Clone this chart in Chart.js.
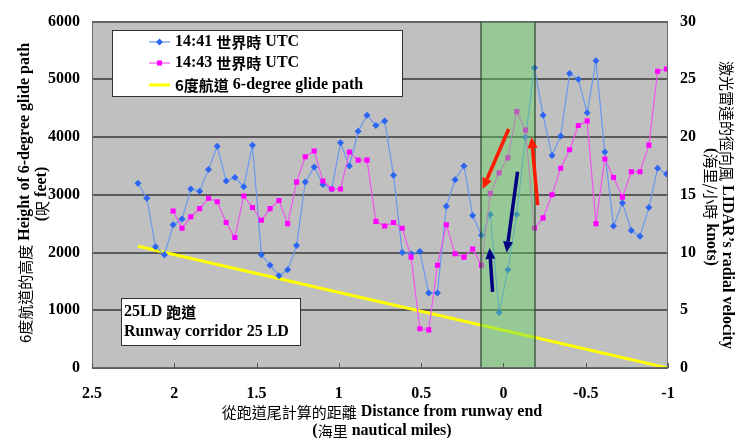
<!DOCTYPE html>
<html>
<head>
<meta charset="utf-8">
<script src="https://cdn.jsdelivr.net/npm/chart.js@4.4.1/dist/chart.umd.min.js"></script>
<style>
  html, body { margin: 0; padding: 0; background: #fff; }
  #wrap { width: 739px; height: 438px; }
</style>
</head>
<body>
<div id="wrap"><canvas id="c" width="739" height="438"></canvas></div>
<script>
// Distance from runway end (nautical miles), one sample every ~100 m
const distances = [
  2.221, 2.167, 2.114, 2.060, 2.007, 1.953, 1.900, 1.846, 1.792, 1.739,
  1.685, 1.632, 1.578, 1.525, 1.471, 1.418, 1.364, 1.311, 1.257, 1.204,
  1.150, 1.097, 1.043, 0.990, 0.936, 0.883, 0.829, 0.775, 0.722, 0.668,
  0.615, 0.561, 0.508, 0.454, 0.401, 0.347, 0.294, 0.240, 0.187, 0.133,
  0.080, 0.026, -0.027, -0.081, -0.134, -0.188, -0.241, -0.295, -0.348, -0.402,
  -0.455, -0.509, -0.562, -0.616, -0.669, -0.723, -0.777, -0.830, -0.884, -0.937,
  -0.991
];

// LIDAR radial velocity (knots) at 14:41 UTC
const velocity1441 = [
  16.0, 14.7, 10.5, 9.8, 12.4, 12.9, 15.5, 15.3, 17.2, 19.2,
  16.2, 16.5, 15.7, 19.3, 9.8, 8.9, 8.0, 8.5, 10.6, 16.1,
  17.4, 15.9, 15.5, 19.5, 17.5, 20.5, 21.9, 21.0, 21.4, 16.7,
  10.0, 9.9, 10.1, 6.5, 6.5, 14.0, 16.3, 17.5, 13.2, 11.5,
  13.3, 4.8, 8.5, 13.3, 20.0, 26.0, 21.9, 18.4, 20.1, 25.5,
  25.0, 22.1, 26.6, 18.7, 12.3, 14.3, 11.9, 11.4, 13.9, 17.3,
  16.8
];

// LIDAR radial velocity (knots) at 14:43 UTC
const velocity1443 = [
  null, null, null, null, 13.6, 12.1, 13.1, 13.8, 14.7, 14.4,
  12.6, 11.3, 14.9, 13.9, 12.8, 13.8, 14.5, 12.5, 16.1, 18.3,
  18.8, 16.2, 15.5, 15.5, 18.7, 18.0, 18.0, 12.7, 12.3, 12.6,
  12.1, 9.6, 3.4, 3.3, 8.9, 12.4, 9.9, 9.6, 10.3, 8.9,
  15.1, 16.9, 18.2, 22.2, 20.6, 12.1, 13.0, 15.0, 17.3, 18.9,
  21.0, 21.4, 12.5, 18.1, 16.5, 14.8, 17.0, 17.0, 19.3, 25.7,
  25.9
];

// 6-degree glide path: end points (nm, feet)
const glideDistance = [2.22, -1];
const glideHeight = [2110, 0];

// Tick values
const distanceTicks = [2.5, 2, 1.5, 1, 0.5, 0, -0.5, -1];
const heightTicks = [0, 1000, 2000, 3000, 4000, 5000, 6000];
const speedTicks = [0, 5, 10, 15, 20, 25, 30];

// Runway 25LD corridor (nm)
const corridorFrom = 0.134;
const corridorTo = -0.19;

// Wind-change arrows: [distance nm, knots] tail -> head
const redArrowTails = [[-0.032, 20.7], [-0.208, 14.1]];
const redArrowHeads = [[0.126, 15.5], [-0.171, 20.0]];
const navyArrowTails = [[0.066, 6.6], [-0.086, 17.0]];
const navyArrowHeads = [[0.084, 10.4], [-0.019, 10.0]];

const LAT = 'bold 16px "Liberation Serif", "Noto Sans CJK TC"';
const CJK = '15px "Noto Sans CJK TC"';
const CJKB = 'bold 15px "Noto Sans CJK TC"';

const BLUE_LINE = '#6a98ee';
const BLUE_PT = '#2a66f2';
const MAG_LINE = '#ee55ee';
const MAG_PT = '#ff00ff';
const YELLOW = '#ffff00';

function pts(xs, ys) {
  const out = [];
  xs.forEach((x, i) => { if (ys[i] !== null) out.push({ x: x, y: ys[i] }); });
  return out;
}

// Draw a row of text runs with different fonts, centred or left-aligned at (x, y)
function drawRuns(ctx, runs, x, y, align) {
  ctx.textBaseline = 'middle';
  ctx.textAlign = 'left';
  let total = 0;
  runs.forEach(r => { ctx.font = r[0]; total += ctx.measureText(r[1]).width; });
  let cx = align === 'center' ? x - total / 2 : x;
  runs.forEach(r => {
    ctx.font = r[0];
    ctx.fillText(r[1], cx, y);
    cx += ctx.measureText(r[1]).width;
  });
}

function drawArrow(ctx, x1, y1, x2, y2, color, width) {
  const ang = Math.atan2(y2 - y1, x2 - x1);
  const head = 11, half = 5;
  const bx = x2 - Math.cos(ang) * head, by = y2 - Math.sin(ang) * head;
  ctx.save();
  ctx.strokeStyle = color;
  ctx.fillStyle = color;
  ctx.lineWidth = width;
  ctx.lineCap = 'butt';
  ctx.beginPath();
  ctx.moveTo(x1, y1);
  ctx.lineTo(bx, by);
  ctx.stroke();
  ctx.beginPath();
  ctx.moveTo(x2, y2);
  ctx.lineTo(bx + Math.sin(ang) * half, by - Math.cos(ang) * half);
  ctx.lineTo(bx - Math.sin(ang) * half, by + Math.cos(ang) * half);
  ctx.closePath();
  ctx.fill();
  ctx.restore();
}

const decor = {
  id: 'decor',
  beforeDraw(chart) {
    const { ctx, chartArea: a } = chart;
    ctx.save();
    ctx.fillStyle = '#ffffff';
    ctx.fillRect(0, 0, chart.width, chart.height);
    ctx.fillStyle = '#c0c0c0';
    ctx.fillRect(a.left, a.top, a.right - a.left, a.bottom - a.top);
    ctx.restore();
  },
  afterDatasetsDraw(chart) {
    const { ctx, chartArea: a, scales } = chart;
    const sx = scales.x, sv = scales.ySpeed;
    ctx.save();

    // runway corridor band, laid over the traces
    const c1 = Math.round(sx.getPixelForValue(corridorFrom));
    const c2 = Math.round(sx.getPixelForValue(corridorTo));
    ctx.fillStyle = 'rgba(95,215,95,0.42)';
    ctx.fillRect(c1, a.top, c2 - c1, a.bottom - a.top);
    ctx.strokeStyle = 'rgba(30,60,30,0.75)';
    ctx.lineWidth = 1.5;
    ctx.beginPath();
    ctx.moveTo(c1, a.top); ctx.lineTo(c1, a.bottom);
    ctx.moveTo(c2, a.top); ctx.lineTo(c2, a.bottom);
    ctx.stroke();

    // arrows
    const P = p => [sx.getPixelForValue(p[0]), sv.getPixelForValue(p[1])];
    redArrowTails.forEach((t, i) => {
      const a1 = P(t), a2 = P(redArrowHeads[i]);
      drawArrow(ctx, a1[0], a1[1], a2[0], a2[1], '#ff1a00', 3.5);
    });
    navyArrowTails.forEach((t, i) => {
      const a1 = P(t), a2 = P(navyArrowHeads[i]);
      drawArrow(ctx, a1[0], a1[1], a2[0], a2[1], '#000080', 3.5);
    });

    // plot frame
    ctx.strokeStyle = '#6a6a6a';
    ctx.lineWidth = 1;
    ctx.strokeRect(a.left + 0.5, a.top + 0.5, a.right - a.left - 1, a.bottom - a.top - 1);

    // inward tick marks on the distance axis
    ctx.strokeStyle = '#555';
    ctx.beginPath();
    distanceTicks.forEach(v => {
      const px = Math.round(sx.getPixelForValue(v)) + 0.5;
      ctx.moveTo(px, a.bottom); ctx.lineTo(px, a.bottom - 5);
    });
    ctx.stroke();

    // legend box
    ctx.fillStyle = '#fff';
    ctx.fillRect(112, 30, 291, 67);
    ctx.strokeStyle = '#333';
    ctx.lineWidth = 1;
    ctx.strokeRect(112.5, 30.5, 290, 66);
    const rows = [42, 63, 85];
    // blue row
    ctx.strokeStyle = BLUE_LINE; ctx.lineWidth = 1.2;
    ctx.beginPath(); ctx.moveTo(149, rows[0]); ctx.lineTo(170, rows[0]); ctx.stroke();
    ctx.fillStyle = BLUE_PT;
    ctx.beginPath();
    ctx.moveTo(159.5, rows[0] - 3.5); ctx.lineTo(163, rows[0]); ctx.lineTo(159.5, rows[0] + 3.5); ctx.lineTo(156, rows[0]);
    ctx.closePath(); ctx.fill();
    // magenta row
    ctx.strokeStyle = MAG_LINE;
    ctx.beginPath(); ctx.moveTo(149, rows[1]); ctx.lineTo(170, rows[1]); ctx.stroke();
    ctx.fillStyle = MAG_PT;
    ctx.fillRect(157, rows[1] - 2.5, 5, 5);
    // yellow row
    ctx.strokeStyle = YELLOW; ctx.lineWidth = 3;
    ctx.beginPath(); ctx.moveTo(149, rows[2]); ctx.lineTo(170, rows[2]); ctx.stroke();
    ctx.fillStyle = '#000';
    drawRuns(ctx, [[LAT, '14:41 '], [CJKB, '世界時'], [LAT, ' UTC']], 175, rows[0], 'left');
    drawRuns(ctx, [[LAT, '14:43 '], [CJKB, '世界時'], [LAT, ' UTC']], 175, rows[1], 'left');
    drawRuns(ctx, [[CJKB, '6度航道'], [LAT, ' 6-degree glide path']], 175, rows[2], 'left');

    // runway label box
    ctx.fillStyle = '#fff';
    ctx.fillRect(121, 298, 180, 48);
    ctx.strokeStyle = '#333'; ctx.lineWidth = 1;
    ctx.strokeRect(121.5, 298.5, 179, 47);
    ctx.fillStyle = '#000';
    drawRuns(ctx, [[LAT, '25LD '], [CJKB, '跑道']], 124, 312, 'left');
    drawRuns(ctx, [[LAT, 'Runway corridor 25 LD']], 124, 332, 'left');
    ctx.restore();
  },
  afterDraw(chart) {
    const { ctx } = chart;
    ctx.save();
    ctx.fillStyle = '#000';
    // left axis title
    ctx.save();
    ctx.translate(25, 193);
    ctx.rotate(-Math.PI / 2);
    drawRuns(ctx, [[CJK, '6度航道的高度'], [LAT, ' Height of 6-degree glide path']], 0, 0, 'center');
    ctx.restore();
    ctx.save();
    ctx.translate(42, 194);
    ctx.rotate(-Math.PI / 2);
    drawRuns(ctx, [[LAT, '('], [CJK, '呎'], [LAT, ' feet)']], 0, 0, 'center');
    ctx.restore();
    // right axis title
    ctx.save();
    ctx.translate(727, 205);
    ctx.rotate(Math.PI / 2);
    drawRuns(ctx, [[CJK, '激光雷達的徑向風'], [LAT, ' LIDAR\u2019s radial velocity']], 0, 0, 'center');
    ctx.restore();
    ctx.save();
    ctx.translate(711, 207);
    ctx.rotate(Math.PI / 2);
    drawRuns(ctx, [[LAT, '('], [CJK, '海里/小時'], [LAT, ' knots)']], 0, 0, 'center');
    ctx.restore();
    // bottom axis title
    drawRuns(ctx, [[CJK, '從跑道尾計算的距離'], [LAT, ' Distance from runway end']], 382, 412, 'center');
    drawRuns(ctx, [[LAT, '('], [CJK, '海里'], [LAT, ' nautical miles)']], 382, 431, 'center');
    ctx.restore();
  }
};

const tickFont = { family: '"Liberation Serif", serif', size: 16, weight: 'bold' };
const plain = v => String(v);

new Chart(document.getElementById('c'), {
  type: 'scatter',
  data: {
    datasets: [
      {
        label: '14:43 世界時 UTC',
        data: pts(distances, velocity1443),
        yAxisID: 'ySpeed',
        showLine: true,
        borderColor: MAG_LINE,
        borderWidth: 1.2,
        pointStyle: 'rect',
        pointRadius: 3.6,
        pointBackgroundColor: MAG_PT,
        pointBorderColor: MAG_PT,
        pointBorderWidth: 0,
        order: 1
      },
      {
        label: '14:41 世界時 UTC',
        data: pts(distances, velocity1441),
        yAxisID: 'ySpeed',
        showLine: true,
        borderColor: BLUE_LINE,
        borderWidth: 1.2,
        pointStyle: 'rectRot',
        pointRadius: 3.5,
        pointBackgroundColor: BLUE_PT,
        pointBorderColor: BLUE_PT,
        pointBorderWidth: 0,
        order: 2
      },
      {
        label: '6度航道 6-degree glide path',
        data: pts(glideDistance, glideHeight),
        yAxisID: 'yHeight',
        showLine: true,
        borderColor: YELLOW,
        borderWidth: 3,
        pointRadius: 0,
        order: 3
      }
    ]
  },
  options: {
    responsive: false,
    animation: false,
    devicePixelRatio: 1,
    layout: { padding: { top: 18, left: 0, right: 0, bottom: 0 } },
    plugins: { legend: { display: false }, tooltip: { enabled: false } },
    scales: {
      x: {
        type: 'linear',
        reverse: true,
        min: -1,
        max: 2.5,
        afterBuildTicks: s => { s.ticks = distanceTicks.map(v => ({ value: v })); },
        afterFit: s => { s.height = 70; },
        grid: { display: false, drawTicks: false },
        border: { display: false },
        ticks: { font: tickFont, color: '#000', padding: 16, autoSkip: false, maxRotation: 0, callback: plain }
      },
      yHeight: {
        type: 'linear',
        position: 'left',
        min: 0,
        max: 6000,
        afterBuildTicks: s => { s.ticks = heightTicks.map(v => ({ value: v })); },
        afterFit: s => { s.width = 92; },
        grid: { color: '#5a5a5a', lineWidth: 2, drawTicks: false },
        border: { display: false },
        ticks: { font: tickFont, color: '#000', padding: 12, autoSkip: false, callback: plain }
      },
      ySpeed: {
        type: 'linear',
        position: 'right',
        min: 0,
        max: 30,
        afterBuildTicks: s => { s.ticks = speedTicks.map(v => ({ value: v })); },
        afterFit: s => { s.width = 71; },
        grid: { display: false, drawTicks: false },
        border: { display: false },
        ticks: { font: tickFont, color: '#000', padding: 12, autoSkip: false, callback: plain }
      }
    }
  },
  plugins: [decor]
});
</script>
</body>
</html>
